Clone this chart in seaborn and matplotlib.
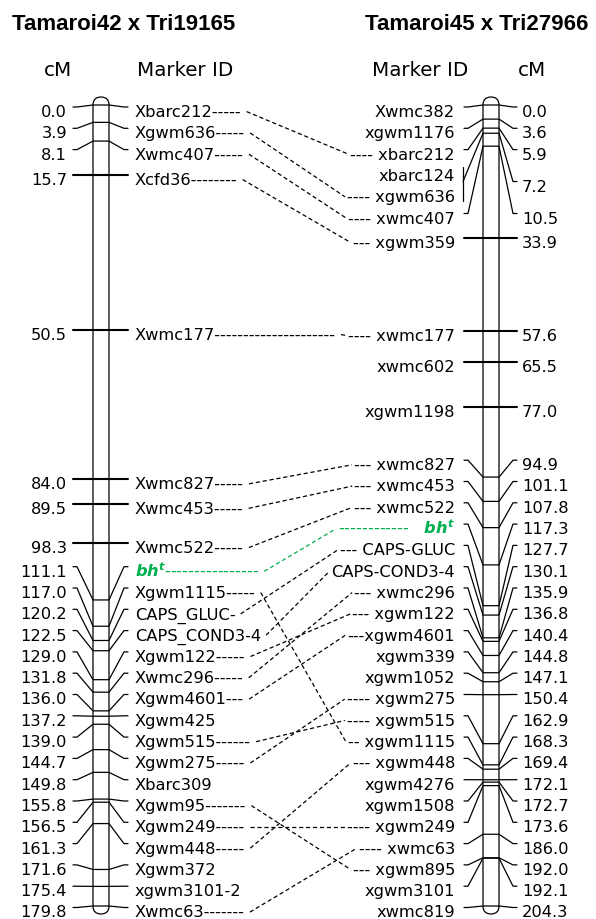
import numpy as np
import pandas as pd
import matplotlib
matplotlib.use("Agg")
import matplotlib.pyplot as plt
from matplotlib.patches import FancyBboxPatch
import seaborn as sns

# ------------------------------------------------------------------ data
left_title = "Tamaroi42 x Tri19165"
right_title = "Tamaroi45 x Tri27966"

left_cm = [0.0, 3.9, 8.1, 15.7, 50.5, 84.0, 89.5, 98.3, 111.1, 117.0, 120.2,
           122.5, 129.0, 131.8, 136.0, 137.2, 139.0, 144.7, 149.8, 155.8,
           156.5, 161.3, 171.6, 175.4, 179.8]
left_markers = ["Xbarc212", "Xgwm636", "Xwmc407", "Xcfd36", "Xwmc177",
                "Xwmc827", "Xwmc453", "Xwmc522", "bht", "Xgwm1115",
                "CAPS_GLUC", "CAPS_COND3-4", "Xgwm122", "Xwmc296", "Xgwm4601",
                "Xgwm425", "Xgwm515", "Xgwm275", "Xbarc309", "Xgwm95",
                "Xgwm249", "Xgwm448", "Xgwm372", "xgwm3101-2", "Xwmc63"]
left_trail = [5, 5, 5, 8, 21, 5, 5, 5, 16, 5, 1, 0, 5, 5, 3, 0, 6, 5, 0, 7,
              5, 5, 0, 0, 7]

right_cm = [0.0, 3.6, 5.9, 7.2, 7.2, 10.5, 33.9, 57.6, 65.5, 77.0, 94.9,
            101.1, 107.8, 117.3, 127.7, 130.1, 135.9, 136.8, 140.4, 144.8,
            147.1, 150.4, 162.9, 168.3, 169.4, 172.1, 172.7, 173.6, 186.0,
            192.0, 192.1, 204.3]
right_markers = ["Xwmc382", "xgwm1176", "xbarc212", "xbarc124", "xgwm636",
                 "xwmc407", "xgwm359", "xwmc177", "xwmc602", "xgwm1198",
                 "xwmc827", "xwmc453", "xwmc522", "bht", "CAPS-GLUC",
                 "CAPS-COND3-4", "xwmc296", "xgwm122", "xgwm4601", "xgwm339",
                 "xgwm1052", "xgwm275", "xgwm515", "xgwm1115", "xgwm448",
                 "xgwm4276", "xgwm1508", "xgwm249", "xwmc63", "xgwm895",
                 "xgwm3101", "xwmc819"]
right_lead = ["", "", "---- ", "", "---- ", "---- ", "--- ", "---- ", "", "",
              "--- ", "--- ", "--- ", "------------   ", "--- ", "", "--- ",
              "--- ", "---", "", "", "---- ", "---- ", "-- ", "--- ", "", "",
              "---- ", "---- ", "--- ", "", ""]

links = [("Xbarc212", "xbarc212"), ("Xgwm636", "xgwm636"),
         ("Xwmc407", "xwmc407"), ("Xcfd36", "xgwm359"),
         ("Xwmc177", "xwmc177"), ("Xwmc827", "xwmc827"),
         ("Xwmc453", "xwmc453"), ("Xwmc522", "xwmc522"), ("bht", "bht"),
         ("Xgwm1115", "xgwm1115"), ("CAPS_GLUC", "CAPS-GLUC"),
         ("CAPS_COND3-4", "CAPS-COND3-4"), ("Xgwm122", "xgwm122"),
         ("Xwmc296", "xwmc296"), ("Xgwm4601", "xgwm4601"),
         ("Xgwm515", "xgwm515"), ("Xgwm275", "xgwm275"),
         ("Xgwm95", "xgwm895"), ("Xgwm249", "xgwm249"),
         ("Xgwm448", "xgwm448"), ("Xwmc63", "xwmc63")]

GREEN = "#00b050"
BH_MATH = r"$\mathbf{bh^{t}}$"

# ------------------------------------------------------------------ style
sns.set_theme(style="white")
plt.rcParams["font.family"] = ["DejaVu Sans"]
plt.rcParams["text.color"] = "black"
plt.rcParams["mathtext.fontset"] = "custom"
plt.rcParams["mathtext.bf"] = "DejaVu Sans:italic:bold"
plt.rcParams["mathtext.it"] = "DejaVu Sans:italic"
plt.rcParams["mathtext.rm"] = "DejaVu Sans"
plt.rcParams["lines.scale_dashes"] = False

W, H = 596, 920
fig = plt.figure(figsize=(W / 100, H / 100), dpi=100)
ax = fig.add_axes([0, 0, 1, 1])

TOP, BOT = 106.0, 907.0      # pixel rows of 0 cM and of the map end
GAP = 21.3                   # minimum label spacing
FS = 11.7
EM = FS * 100 / 72
BASE = 9.0
HY = BASE - 0.27 * EM


def to_y(cm, length):
    return TOP + np.asarray(cm, float) / length * (BOT - TOP)


def spread(y, d, lo, hi):
    y = np.asarray(y, float)
    n = len(y)
    idx = np.arange(n)
    z = y - idx * d
    blocks = []
    for v in z:
        blocks.append([v, 1])
        while len(blocks) > 1 and blocks[-2][0] / blocks[-2][1] > blocks[-1][0] / blocks[-1][1]:
            s, c = blocks.pop()
            blocks[-1][0] += s
            blocks[-1][1] += c
    fit = np.concatenate([[b[0] / b[1]] * b[1] for b in blocks])
    fit = np.clip(fit, lo, hi - (n - 1) * d)
    return fit + idx * d


def straight(act, lab, k, d):
    """A marker keeps a plain straight tick when it is inside the map,
    its label sits on it and no neighbour is within one label gap."""
    if k == 0 or k == len(act) - 1:
        return False
    if abs(lab - act[k]) >= 0.5:
        return False
    return act[k] - act[k - 1] > d and act[k + 1] - act[k] > d


l_act = to_y(left_cm, max(left_cm))
l_lab = spread(l_act, GAP, 108, BOT + 1.5)
r_act = to_y(right_cm, max(right_cm))
r_lab = spread(r_act, GAP, 108, BOT + 1.5)

# chromosome bodies
for x0 in (93, 483):
    ax.add_patch(FancyBboxPatch((x0, TOP - 8), 16, BOT - TOP + 16,
                                boxstyle="round,pad=0,rounding_size=8",
                                fc="white", ec="black", lw=0.9, zorder=1))

thick_rows, thin_rows = [], []


def add(rows, seg, pts):
    for (x, y) in pts:
        rows.append({"seg": seg, "x": x, "y": y})


# left map connectors
for i, (a, L) in enumerate(zip(l_act, l_lab)):
    if straight(l_act, L, i, GAP):
        add(thick_rows, f"L{i}", [(73, a), (128, a)])
    else:
        add(thin_rows, f"L{i}", [(73, L), (77, L), (93, a), (109, a),
                                 (124, L), (128, L)])
    ax.text(67, L + BASE, f"{left_cm[i]:.1f}", ha="right", va="baseline",
            fontsize=FS, color="black")

texts_left = {}
for i, name in enumerate(left_markers):
    L = l_lab[i]
    if name == "bht":
        t = ax.text(135, L + BASE, BH_MATH + "-" * left_trail[i], ha="left",
                    va="baseline", fontsize=FS, color=GREEN)
    else:
        t = ax.text(135, L + BASE, name + "-" * left_trail[i], ha="left",
                    va="baseline", fontsize=FS, color="black")
    texts_left[name] = (t, L)

# right map: group identical positions
groups = []
for i, v in enumerate(right_cm):
    if groups and right_cm[groups[-1][0]] == v:
        groups[-1].append(i)
    else:
        groups.append([i])
g_act = np.array([r_act[g[0]] for g in groups])

for gi, g in enumerate(groups):
    a = g_act[gi]
    Lm = float(np.mean(r_lab[g]))
    if len(g) == 1 and straight(g_act, Lm, gi, GAP):
        add(thick_rows, f"R{gi}", [(464, a), (517, a)])
    elif len(g) == 1:
        add(thin_rows, f"R{gi}", [(464, Lm), (468, Lm), (483, a), (499, a),
                                  (513, Lm), (517, Lm)])
    else:
        add(thin_rows, f"R{gi}b", [(463, r_lab[g[0]] - 4),
                                    (463, r_lab[g[-1]] + 9)])
        add(thin_rows, f"R{gi}", [(463, Lm), (483, a), (499, a),
                                  (513, Lm), (517, Lm)])
    ax.text(522, Lm + BASE, f"{right_cm[g[0]]:.1f}", ha="left", va="baseline",
            fontsize=FS, color="black")

texts_right = {}
for i, name in enumerate(right_markers):
    L = r_lab[i]
    if name == "bht":
        t = ax.text(455, L + BASE, right_lead[i] + BH_MATH, ha="right",
                    va="baseline", fontsize=FS, color=GREEN)
    else:
        t = ax.text(455, L + BASE, right_lead[i] + name, ha="right",
                    va="baseline", fontsize=FS, color="black")
    texts_right[name] = (t, L)

thick_df = pd.DataFrame(thick_rows)
thin_df = pd.DataFrame(thin_rows)
sns.lineplot(data=thick_df, x="x", y="y", units="seg", estimator=None,
             sort=False, color="black", lw=1.5, ax=ax, legend=False, zorder=3)
sns.lineplot(data=thin_df, x="x", y="y", units="seg", estimator=None,
             sort=False, color="black", lw=0.9, ax=ax, legend=False, zorder=3)

ax.set_xlim(0, W)
ax.set_ylim(H, 0)
ax.axis("off")

# dashed links between the two maps (positions from rendered text extents)
renderer = fig.canvas.get_renderer()
inv = ax.transData.inverted()
for ln, rn in links:
    tl, Ll = texts_left[ln]
    tr, Lr = texts_right[rn]
    bl = inv.transform(tl.get_window_extent(renderer))
    br = inv.transform(tr.get_window_extent(renderer))
    x0 = max(bl[:, 0]) + 5
    x1 = min(br[:, 0]) - 2
    col = GREEN if ln == "bht" else "black"
    ax.plot([x0, x1], [Ll + HY, Lr + HY], color=col, lw=0.9,
            linestyle=(0, (3, 2)), zorder=2)

# titles and headers
ax.text(12, 30, left_title, ha="left", va="baseline", fontsize=16.0,
        fontweight="bold", color="black",
        family=["Liberation Sans", "DejaVu Sans"])
ax.text(365, 30, right_title, ha="left", va="baseline", fontsize=16.0,
        fontweight="bold", color="black",
        family=["Liberation Sans", "DejaVu Sans"])
for x, s in ((58, "cM"), (185, "Marker ID"), (420, "Marker ID"), (532, "cM")):
    ax.text(x, 76.5, s, ha="center", va="baseline", fontsize=14.3,
            color="black")

fig.savefig("out.png", dpi=100)
